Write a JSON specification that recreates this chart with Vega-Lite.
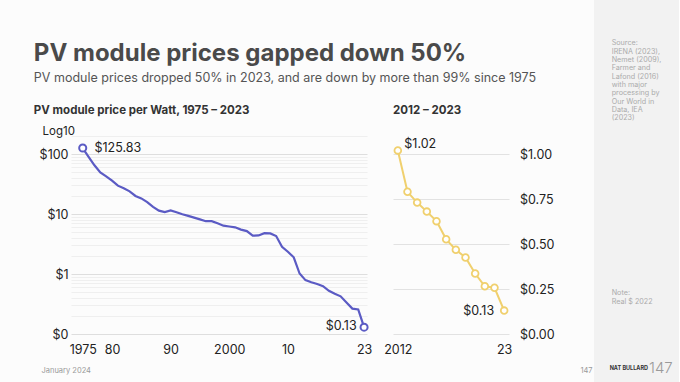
{
  "$schema": "https://vega.github.io/schema/vega-lite/v6.json",
  "background": "#fcfcfc",
  "padding": {"left": 33, "top": 0, "right": 0, "bottom": 0},
  "config": {
    "font": "Inter",
    "view": {"stroke": null},
    "axis": {"domain": false, "ticks": false, "tickSize": 0, "labelFont": "Inter", "labelFontSize": 12.5, "labelColor": "#222222", "titleFont": "Inter", "titleFontWeight": "normal", "labelFlush": false},
    "title": {"font": "Inter"}
  },
  "datasets": {
    "prices": [
      {"year": 1975, "price": 125.83}, {"year": 1976, "price": 90}, {"year": 1977, "price": 65},
      {"year": 1978, "price": 49.5}, {"year": 1979, "price": 42.5}, {"year": 1980, "price": 36},
      {"year": 1981, "price": 29.7}, {"year": 1982, "price": 26.8}, {"year": 1983, "price": 23.9},
      {"year": 1984, "price": 20}, {"year": 1985, "price": 18.2}, {"year": 1986, "price": 15.8},
      {"year": 1987, "price": 13.2}, {"year": 1988, "price": 11.4}, {"year": 1989, "price": 10.8},
      {"year": 1990, "price": 11.5}, {"year": 1991, "price": 10.7}, {"year": 1992, "price": 9.9},
      {"year": 1993, "price": 9.3}, {"year": 1994, "price": 8.7}, {"year": 1995, "price": 8.15},
      {"year": 1996, "price": 7.6}, {"year": 1997, "price": 7.6}, {"year": 1998, "price": 7.0},
      {"year": 1999, "price": 6.4}, {"year": 2000, "price": 6.2}, {"year": 2001, "price": 6.0},
      {"year": 2002, "price": 5.5}, {"year": 2003, "price": 5.2}, {"year": 2004, "price": 4.35},
      {"year": 2005, "price": 4.4}, {"year": 2006, "price": 4.8}, {"year": 2007, "price": 4.75},
      {"year": 2008, "price": 4.3}, {"year": 2009, "price": 2.85}, {"year": 2010, "price": 2.35},
      {"year": 2011, "price": 1.9}, {"year": 2012, "price": 1.02}, {"year": 2013, "price": 0.79},
      {"year": 2014, "price": 0.73}, {"year": 2015, "price": 0.68}, {"year": 2016, "price": 0.627},
      {"year": 2017, "price": 0.526}, {"year": 2018, "price": 0.468}, {"year": 2019, "price": 0.425},
      {"year": 2020, "price": 0.336}, {"year": 2021, "price": 0.265}, {"year": 2022, "price": 0.257},
      {"year": 2023, "price": 0.13}
    ],
    "notes": [
      {"kind": "note", "line": 1, "text": "Source:"},
      {"kind": "note", "line": 2, "text": "IRENA (2023),"},
      {"kind": "note", "line": 3, "text": "Nemet (2009),"},
      {"kind": "note", "line": 4, "text": "Farmer and"},
      {"kind": "note", "line": 5, "text": "Lafond (2016)"},
      {"kind": "note", "line": 6, "text": "with major"},
      {"kind": "note", "line": 7, "text": "processing by"},
      {"kind": "note", "line": 8, "text": "Our World in"},
      {"kind": "note", "line": 9, "text": "Data, IEA"},
      {"kind": "note", "line": 10, "text": "(2023)"},
      {"kind": "note", "line": 31, "text": "Note:"},
      {"kind": "note", "line": 32, "text": "Real $ 2022"},
      {"kind": "brand", "line": 40, "text": "NAT BULLARD"},
      {"kind": "page", "line": 40, "text": "147"}
    ]
  },
  "spacing": 1,
  "hconcat": [
    {
      "spacing": 40,
      "vconcat": [
        {
          "width": 1,
          "height": 1,
          "data": {"values": []},
          "mark": "point"
        },
        {
          "title": {
            "text": "PV module prices gapped down 50%",
            "subtitle": "PV module prices dropped 50% in 2023, and are down by more than 99% since 1975",
            "anchor": "start", "fontSize": 24, "fontWeight": "bold", "color": "#4a4a4a",
            "baseline": "top",
            "subtitleFontSize": 12.5, "subtitleColor": "#555555", "subtitlePadding": 6,
            "offset": 21
          },
          "bounds": "flush",
          "spacing": 26,
          "hconcat": [
            {
              "width": 296,
              "height": 198,
              "title": {"text": "PV module price per Watt, 1975 – 2023", "anchor": "start", "fontSize": 11.5, "fontWeight": "bold", "color": "#333333", "baseline": "top", "offset": 8.5, "dx": -5.3},
              "data": {"name": "prices"},
              "encoding": {
                "x": {
                  "field": "year", "type": "quantitative",
                  "scale": {"domain": [1973, 2023.5], "nice": false, "zero": false},
                  "axis": {
                    "values": [1975, 1980, 1990, 2000, 2010, 2023],
                    "labelExpr": "datum.value == 1975 || datum.value == 2000 ? '' + datum.value : substring('' + datum.value, 2, 4)",
                    "grid": false, "labelPadding": 9,
                    "title": "January 2024", "titleX": -30, "titleY": 36.7, "titleAlign": "left", "titleBaseline": "middle",
                    "titleFontSize": 7.5, "titleColor": "#9a9a9a"
                  }
                },
                "y": {
                  "field": "price", "type": "quantitative",
                  "scale": {"type": "log", "domain": [0.1, 200], "nice": false},
                  "axis": {
                    "tickCount": 10, "grid": true,
                    "gridColor": {"condition": {"test": "abs(log(datum.value)/LN10 - round(log(datum.value)/LN10)) < 0.0001", "value": "#dedede"}, "value": "#efefef"},
                    "labelOverlap": false,
                    "labelExpr": "abs(log(datum.value)/LN10 - round(log(datum.value)/LN10)) < 0.0001 ? (datum.value < 0.5 ? '$0' : '$' + format(datum.value, 'd')) : ''",
                    "labelPadding": 3,
                    "title": "Log10", "titleAngle": 0, "titleAlign": "left", "titleBaseline": "alphabetic",
                    "titleX": -29, "titleY": -1.7, "titleFontSize": 11.5, "titleColor": "#222222"
                  }
                }
              },
              "layer": [
                {"mark": {"type": "line", "color": "#5b5bc4", "strokeWidth": 2.2}},
                {
                  "transform": [{"filter": "datum.year == 1975 || datum.year == 2023"}],
                  "mark": {"type": "point", "filled": true, "fill": "#ffffff", "stroke": "#5b5bc4", "strokeWidth": 2, "size": 50, "opacity": 1}
                },
                {
                  "transform": [{"filter": "datum.year == 1975"}],
                  "mark": {"type": "text", "align": "left", "baseline": "middle", "dx": 11.7, "fontSize": 12.5, "color": "#222222"},
                  "encoding": {"text": {"field": "price", "type": "quantitative", "format": "$.2f"}}
                },
                {
                  "transform": [{"filter": "datum.year == 2023"}],
                  "mark": {"type": "text", "align": "right", "baseline": "middle", "dx": -7.4, "dy": -1.5, "fontSize": 12.5, "color": "#222222"},
                  "encoding": {"text": {"field": "price", "type": "quantitative", "format": "$.2f"}}
                }
              ]
            },
            {
              "width": 116,
              "height": 198,
              "title": {"text": "2012 – 2023", "anchor": "start", "frame": "group", "fontSize": 11.5, "fontWeight": "bold", "color": "#333333", "baseline": "top", "offset": 19.4},
              "data": {"name": "prices"},
              "transform": [{"filter": "datum.year >= 2012"}],
              "encoding": {
                "x": {
                  "field": "year", "type": "quantitative",
                  "scale": {"domain": [2011.5, 2023.5], "nice": false, "zero": false},
                  "axis": {
                    "values": [2012, 2023],
                    "labelExpr": "datum.value == 2012 ? '2012' : '23'",
                    "grid": false, "labelPadding": 9,
                    "title": "147", "titleX": 193, "titleY": 36.7, "titleAlign": "center", "titleBaseline": "middle",
                    "titleFontSize": 7.5, "titleColor": "#9a9a9a"
                  }
                },
                "y": {
                  "field": "price", "type": "quantitative",
                  "scale": {"domain": [0, 1.1], "nice": false},
                  "axis": {"orient": "right", "values": [0, 0.25, 0.5, 0.75, 1], "format": "$.2f", "grid": true, "gridColor": "#e2e2e2", "labelPadding": 10.5, "title": null}
                }
              },
              "layer": [
                {"mark": {"type": "line", "color": "#f0d06e", "strokeWidth": 2}},
                {"mark": {"type": "point", "filled": true, "fill": "#ffffff", "stroke": "#f0d06e", "strokeWidth": 1.8, "size": 45, "opacity": 1}},
                {
                  "transform": [{"filter": "datum.year == 2012"}],
                  "mark": {"type": "text", "align": "left", "baseline": "middle", "dx": 6.5, "dy": -6.4, "fontSize": 12.5, "color": "#222222"},
                  "encoding": {"text": {"field": "price", "type": "quantitative", "format": "$.2f"}}
                },
                {
                  "transform": [{"filter": "datum.year == 2023"}],
                  "mark": {"type": "text", "align": "right", "baseline": "middle", "dx": -10, "dy": 0.5, "fontSize": 12.5, "color": "#222222"},
                  "encoding": {"text": {"field": "price", "type": "quantitative", "format": "$.2f"}}
                }
              ]
            }
          ]
        }
      ]
    },
    {
      "width": 85,
      "height": 382,
      "view": {"fill": "#f2f2f2", "stroke": null},
      "data": {"name": "notes"},
      "encoding": {
        "y": {"field": "line", "type": "quantitative", "scale": {"domain": [-4.2, 41.64], "reverse": true, "nice": false, "zero": false}, "axis": null},
        "text": {"field": "text", "type": "nominal"}
      },
      "layer": [
        {
          "transform": [{"filter": "datum.kind == 'note'"}],
          "mark": {"type": "text", "align": "left", "baseline": "middle", "dx": -24.8, "fontSize": 7.2, "color": "#ababab"}
        },
        {
          "transform": [{"filter": "datum.kind == 'brand'"}],
          "mark": {"type": "text", "align": "right", "baseline": "middle", "dx": 11.5, "fontSize": 5.5, "fontWeight": "bold", "color": "#333333"}
        },
        {
          "transform": [{"filter": "datum.kind == 'page'"}],
          "mark": {"type": "text", "align": "left", "baseline": "middle", "dx": 12.5, "fontSize": 15, "fontWeight": 300, "color": "#9a9a9a"}
        }
      ]
    }
  ]
}
